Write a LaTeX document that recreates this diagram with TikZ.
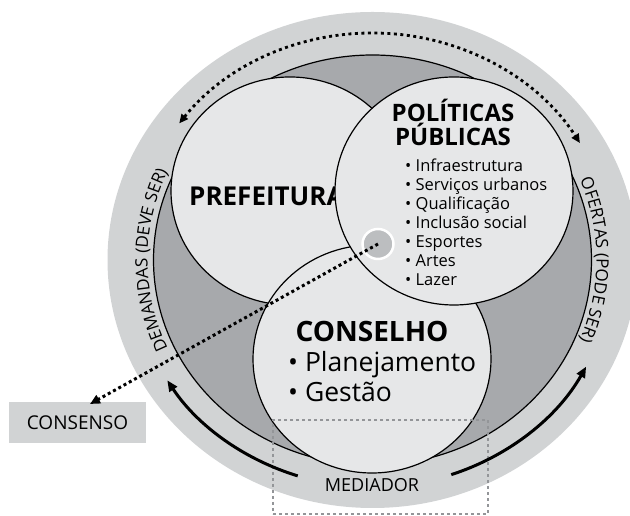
\documentclass[tikz,border=0pt]{standalone}
\usepackage{fontspec}
\setmainfont{Open Sans}
\usetikzlibrary{arrows.meta,decorations.text,shapes.geometric,calc}
\definecolor{outergray}{HTML}{D1D3D4}
\definecolor{midgray}{HTML}{A7A9AC}
\definecolor{circfill}{HTML}{E6E7E8}
\definecolor{spotgray}{HTML}{BCBEC0}
\definecolor{boxgray}{HTML}{939598}
\begin{document}
\begin{tikzpicture}[x=1pt,y=1pt,
  circ/.style={draw=black, line width=1.2pt, fill=circfill, ellipse, inner sep=0pt, minimum width=238pt, minimum height=228pt},
  dotarrow/.style={line width=3pt, dash pattern=on 3pt off 3pt, -{Triangle[length=10pt,width=9pt]}},
  solidarrow/.style={line width=3pt, -{Triangle[length=11pt,width=9pt]}},
  bigbold/.style={font=\fontsize{26pt}{26pt}\selectfont\bfseries, inner sep=0pt},
  midbold/.style={font=\fontsize{24pt}{24pt}\selectfont\bfseries, inner sep=0pt, anchor=base},
  listitem/.style={font=\fontsize{16.5pt}{16.5pt}\selectfont, inner sep=0pt, anchor=base west},
  bigitem/.style={font=\fontsize{26.5pt}{26.5pt}\selectfont, inner sep=0pt, anchor=base west},
  labeltext/.style={font=\fontsize{18pt}{18pt}\selectfont, inner sep=0pt}
]
\useasboundingbox (0,0) rectangle (630,516);
\clip (0,0) rectangle (630,516);
% outer ring and inner disk
\node[fill=outergray, ellipse, inner sep=0pt, minimum width=530pt, minimum height=496pt] (outer) at (372.5,256) {};
\node[draw=black, line width=1.2pt, fill=midgray, ellipse, inner sep=0pt, minimum width=438pt, minimum height=410pt] (inner) at (372.5,256) {};
% circles
\node[circ] (pref) at (290,325) {};
\node[bigbold, anchor=base west] (preft) at (189,310) {PREFEITURA};
\node[circ] (cons) at (372,157) {};
\node[circ] (pol) at (454,325) {};
% politicas text
\node[midbold] (polt1) at (453,394) {POLÍTICAS};
\node[midbold] (polt2) at (453,370) {PÚBLICAS};
\foreach \t [count=\i] in {Infraestrutura, Serviços urbanos, Qualificação, Inclusão social, Esportes, Artes, Lazer}
  \node[listitem] (pp\i) at (405,{344-19*(\i-1)}) {• \t};
% conselho text
\node[bigbold, anchor=base, font=\fontsize{28pt}{28pt}\selectfont\bfseries] (const) at (372,174) {CONSELHO};
\node[bigitem] (plan) at (288,144) {• Planejamento};
\node[bigitem] (gest) at (288,114) {• Gestão};
% mediator box
\node[draw=boxgray, line width=2.5pt, dash pattern=on 3pt off 3pt, minimum width=215pt, minimum height=94pt, inner sep=0pt] (medbox) at (380.5,49) {};
\node[labeltext, anchor=base] (med) at (372,24) {MEDIADOR};
% consenso
\node[fill=outergray, minimum width=137pt, minimum height=41pt, inner sep=0pt, font=\fontsize{19pt}{19pt}\selectfont] (consenso) at (77.5,93.5) {CONSENSO};
\coordinate (ctip) at (90,112);
% top dotted double arrow
\draw[line width=2.8pt, dash pattern=on 3pt off 3.5pt, {Triangle[length=9pt,width=8pt]}-{Triangle[length=9pt,width=8pt]}]
  (372.5,256) ++(143:242 and 227) arc[start angle=143, end angle=31, x radius=242pt, y radius=227pt];
% solid arrows
\draw[solidarrow] (372.5,256) ++(252:242 and 227) arc[start angle=252, end angle=212, x radius=242pt, y radius=227pt];
\draw[solidarrow] (372.5,256) ++(289:242 and 227) arc[start angle=289, end angle=332, x radius=242pt, y radius=227pt];
% curved labels
\path[decorate, decoration={text along path, text align=center, text={|\fontsize{17pt}{17pt}\selectfont|DEMANDAS (DEVE SER)}}]
  (372.5,256) ++(215:225 and 212) arc[start angle=215, end angle=145, x radius=225pt, y radius=212pt];
\path[decorate, decoration={text along path, text align=center, text={|\fontsize{17pt}{17pt}\selectfont|OFERTAS (PODE SER)}}]
  (372.5,256) ++(35:224 and 211) arc[start angle=35, end angle=-35, x radius=224pt, y radius=211pt];
% spot and dotted arrow to consenso
\node[draw=white, line width=2.5pt, fill=spotgray, ellipse, inner sep=0pt, minimum width=31pt, minimum height=30pt] (spot) at (378,272) {};
\draw[dotarrow] (spot.center) -- (ctip);
\end{tikzpicture}
\end{document}
